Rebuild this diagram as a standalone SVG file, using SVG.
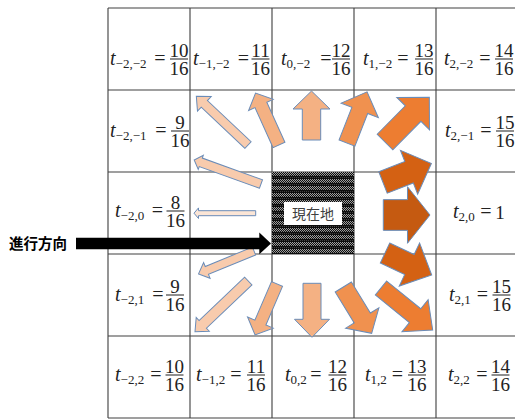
<svg xmlns="http://www.w3.org/2000/svg" width="515" height="419" viewBox="0 0 515 419">
<style>
.vl{stroke:#7a7a7a;stroke-width:1.6}
.hl{stroke:#404040;stroke-width:1.2}
.m{font-family:"Liberation Serif","DejaVu Serif",serif;font-size:19px;fill:#222}
.it{font-style:italic;font-size:20px}
.sb{font-size:13px}
.eq{font-size:20px}
.c{text-anchor:middle}
.fb{stroke:#333;stroke-width:1.1}
.ar{stroke:#6a8cb8;stroke-width:1;stroke-linejoin:miter}
</style>
<defs>
<pattern id="hatch" patternUnits="userSpaceOnUse" x="272" y="172" width="2" height="7">
<rect width="2" height="7" fill="#0d0d0d"/>
<rect x="0" y="0" width="1" height="1" fill="#a0a0a0"/>
<rect x="1" y="1" width="1" height="1" fill="#a0a0a0"/>
<rect x="0" y="2" width="1" height="1" fill="#a0a0a0"/>
<rect x="1" y="3" width="1" height="1" fill="#8c8c8c"/>
<rect x="0" y="5" width="1" height="1" fill="#404040"/>
</pattern>
</defs>

<g id="grid">
<line class="vl" x1="108" y1="8" x2="108" y2="418"/>
<line class="vl" x1="190" y1="8" x2="190" y2="418"/>
<line class="vl" x1="272" y1="8" x2="272" y2="418"/>
<line class="vl" x1="354" y1="8" x2="354" y2="418"/>
<line class="vl" x1="436" y1="8" x2="436" y2="418"/>
<line class="hl" x1="108" y1="8" x2="515" y2="8"/>
<line class="hl" x1="108" y1="90" x2="515" y2="90"/>
<line class="hl" x1="108" y1="172" x2="515" y2="172"/>
<line class="hl" x1="108" y1="254" x2="515" y2="254"/>
<line class="hl" x1="108" y1="336" x2="515" y2="336"/>
<line class="hl" x1="108" y1="418" x2="515" y2="418"/>
</g>

<g id="labels">
<!-- row 1, bar 59 -->
<g id="c-2-2"><text class="m" x="110" y="65"><tspan class="it">t</tspan><tspan class="sb" dy="3">−2,−2</tspan></text><text class="m c eq" x="160" y="65">=</text><text class="m c" x="179" y="56.5">10</text><line class="fb" x1="170" y1="59" x2="188" y2="59"/><text class="m c" x="179" y="75">16</text></g>
<g id="c-1-2"><text class="m" x="193" y="65"><tspan class="it">t</tspan><tspan class="sb" dy="3">−1,−2</tspan></text><text class="m c eq" x="243.5" y="65">=</text><text class="m c" x="260.5" y="56.5">11</text><line class="fb" x1="251.5" y1="59" x2="269.5" y2="59"/><text class="m c" x="260.5" y="75">16</text></g>
<g id="c0-2"><text class="m" x="281" y="65"><tspan class="it">t</tspan><tspan class="sb" dy="3">0,−2</tspan></text><text class="m c eq" x="326" y="65">=</text><text class="m c" x="341" y="56.5">12</text><line class="fb" x1="332" y1="59" x2="350" y2="59"/><text class="m c" x="341" y="75">16</text></g>
<g id="c1-2"><text class="m" x="363" y="65"><tspan class="it">t</tspan><tspan class="sb" dy="3">1,−2</tspan></text><text class="m c eq" x="403" y="65">=</text><text class="m c" x="424" y="56.5">13</text><line class="fb" x1="415" y1="59" x2="433" y2="59"/><text class="m c" x="424" y="75">16</text></g>
<g id="c2-2"><text class="m" x="444" y="65"><tspan class="it">t</tspan><tspan class="sb" dy="3">2,−2</tspan></text><text class="m c eq" x="485" y="65">=</text><text class="m c" x="504" y="56.5">14</text><line class="fb" x1="495" y1="59" x2="513" y2="59"/><text class="m c" x="504" y="75">16</text></g>
<!-- row 2, bar 131 -->
<g id="c-2-1"><text class="m" x="110" y="137"><tspan class="it">t</tspan><tspan class="sb" dy="3">−2,−1</tspan></text><text class="m c eq" x="161" y="137">=</text><text class="m c" x="180" y="128.5">9</text><line class="fb" x1="171" y1="131" x2="189" y2="131"/><text class="m c" x="180" y="147">16</text></g>
<g id="c2-1"><text class="m" x="445" y="137"><tspan class="it">t</tspan><tspan class="sb" dy="3">2,−1</tspan></text><text class="m c eq" x="486" y="137">=</text><text class="m c" x="505" y="128.5">15</text><line class="fb" x1="496" y1="131" x2="514" y2="131"/><text class="m c" x="505" y="147">16</text></g>
<!-- row 3, bar 211 -->
<g id="c-20"><text class="m" x="115" y="217"><tspan class="it">t</tspan><tspan class="sb" dy="3">−2,0</tspan></text><text class="m c eq" x="157.5" y="217">=</text><text class="m c" x="175.5" y="208.5">8</text><line class="fb" x1="166.5" y1="211" x2="184.5" y2="211"/><text class="m c" x="175.5" y="227">16</text></g>
<g id="c20"><text class="m" x="453" y="218"><tspan class="it">t</tspan><tspan class="sb" dy="3">2,0</tspan></text><text class="m c eq" x="486" y="218">=</text><text class="m c" x="500" y="219">1</text></g>
<!-- row 4, bar 295 -->
<g id="c-21"><text class="m" x="115" y="301"><tspan class="it">t</tspan><tspan class="sb" dy="3">−2,1</tspan></text><text class="m c eq" x="158" y="301">=</text><text class="m c" x="175" y="292.5">9</text><line class="fb" x1="166" y1="295" x2="184" y2="295"/><text class="m c" x="175" y="311">16</text></g>
<g id="c21"><text class="m" x="449" y="301"><tspan class="it">t</tspan><tspan class="sb" dy="3">2,1</tspan></text><text class="m c eq" x="482.5" y="301">=</text><text class="m c" x="501.5" y="292.5">15</text><line class="fb" x1="492.5" y1="295" x2="510.5" y2="295"/><text class="m c" x="501.5" y="311">16</text></g>
<!-- row 5, bar 375 -->
<g id="c-22"><text class="m" x="115" y="381"><tspan class="it">t</tspan><tspan class="sb" dy="3">−2,2</tspan></text><text class="m c eq" x="156" y="381">=</text><text class="m c" x="174.5" y="372.5">10</text><line class="fb" x1="165.5" y1="375" x2="183.5" y2="375"/><text class="m c" x="174.5" y="391">16</text></g>
<g id="c-12"><text class="m" x="196" y="381"><tspan class="it">t</tspan><tspan class="sb" dy="3">−1,2</tspan></text><text class="m c eq" x="236" y="381">=</text><text class="m c" x="256" y="372.5">11</text><line class="fb" x1="247" y1="375" x2="265" y2="375"/><text class="m c" x="256" y="391">16</text></g>
<g id="c02"><text class="m" x="285" y="381"><tspan class="it">t</tspan><tspan class="sb" dy="3">0,2</tspan></text><text class="m c eq" x="316" y="381">=</text><text class="m c" x="337.5" y="372.5">12</text><line class="fb" x1="328.5" y1="375" x2="346.5" y2="375"/><text class="m c" x="337.5" y="391">16</text></g>
<g id="c12"><text class="m" x="365" y="381"><tspan class="it">t</tspan><tspan class="sb" dy="3">1,2</tspan></text><text class="m c eq" x="397.5" y="381">=</text><text class="m c" x="417" y="372.5">13</text><line class="fb" x1="408" y1="375" x2="426" y2="375"/><text class="m c" x="417" y="391">16</text></g>
<g id="c22"><text class="m" x="448" y="381"><tspan class="it">t</tspan><tspan class="sb" dy="3">2,2</tspan></text><text class="m c eq" x="482" y="381">=</text><text class="m c" x="500.5" y="372.5">14</text><line class="fb" x1="491.5" y1="375" x2="509.5" y2="375"/><text class="m c" x="500.5" y="391">16</text></g>
</g>

<g id="current">
<rect x="272" y="172" width="82" height="82" fill="url(#hatch)"/>
<rect x="284" y="202" width="58" height="23" fill="#fff"/>
<text x="313" y="219" text-anchor="middle" font-family="'Noto Sans CJK JP','Noto Sans CJK SC',sans-serif" font-size="14" fill="#404040">現在地</text>
</g>

<g id="connectors">
<polygon class="ar" fill="#F8CBAD" transform="translate(248,145) rotate(-136.7)" points="0,-4.5 60,-4.5 60,-10 71,0 60,10 60,4.5 0,4.5"/>
<polygon class="ar" fill="#F4B183" transform="translate(279,145) rotate(-114.3)" points="0,-6.5 44,-6.5 44,-13.5 57,0 44,13.5 44,6.5 0,6.5"/>
<polygon class="ar" fill="#F4B183" transform="translate(311.5,140) rotate(-90)" points="0,-9.2 31,-9.2 31,-18.5 49,0 31,18.5 31,9.2 0,9.2"/>
<polygon class="ar" fill="#F0914F" transform="translate(347,143) rotate(-68.6)" points="0,-8.5 35,-8.5 35,-20 55,0 35,20 35,8.5 0,8.5"/>
<polygon class="ar" fill="#ED7D31" transform="translate(385,142) rotate(-45.3)" points="0,-11 40,-11 40,-23 63,0 40,23 40,11 0,11"/>
<polygon class="ar" fill="#D46113" transform="translate(383,182.5) rotate(-21.5)" points="0,-11.5 28,-11.5 28,-23.5 52,0 28,23.5 28,11.5 0,11.5"/>
<polygon class="ar" fill="#C55A11" transform="translate(383.3,215)" points="0,-15.35 24.2,-15.35 24.2,-28.3 46.7,0 24.2,28.3 24.2,15.35 0,15.35"/>
<polygon class="ar" fill="#D46113" transform="translate(385,253) rotate(25.2)" points="0,-11 27,-11 27,-23.85 51.6,0 27,23.85 27,11 0,11"/>
<polygon class="ar" fill="#ED7D31" transform="translate(381,288) rotate(39.1)" points="0,-9 43.9,-9 43.9,-20.7 66.6,0 43.9,20.7 43.9,9 0,9"/>
<polygon class="ar" fill="#F0914F" transform="translate(343.3,287) rotate(58.5)" points="0,-9.5 36.3,-9.5 36.3,-19.5 54.3,0 36.3,19.5 36.3,9.5 0,9.5"/>
<polygon class="ar" fill="#F4B183" transform="translate(312,283.3) rotate(90)" points="0,-9 36,-9 36,-17.5 54,0 36,17.5 36,9 0,9"/>
<polygon class="ar" fill="#F4B183" transform="translate(277,284) rotate(113.3)" points="0,-6 42,-6 42,-14 55.5,0 42,14 42,6 0,6"/>
<polygon class="ar" fill="#F8CBAD" transform="translate(248.3,281) rotate(136.4)" points="0,-5.35 62.9,-5.35 62.9,-9.5 73.6,0 62.9,9.5 62.9,5.35 0,5.35"/>
<polygon class="ar" fill="#F8CBAD" transform="translate(254,251) rotate(157.6)" points="0,-4.25 51,-4.25 51,-8.5 60,0 51,8.5 51,4.25 0,4.25"/>
<polygon class="ar" fill="#FBE5D6" transform="translate(255.7,213.2) rotate(180)" points="0,-2.5 57.2,-2.5 57.2,-5.3 61.7,0 57.2,5.3 57.2,2.5 0,2.5"/>
<polygon class="ar" fill="#F8CBAD" transform="translate(261,184) rotate(-160.2)" points="0,-4.5 64,-4.5 64,-7.5 71,0 64,7.5 64,4.5 0,4.5"/>
<polygon fill="#000" points="76,237.7 259.3,237.7 259.3,232.5 271,243.5 259.3,254.3 259.3,249.3 76,249.3"/>
</g>

<g id="direction-label">
<text x="9" y="249" font-family="'Noto Sans CJK JP','Noto Sans CJK SC',sans-serif" font-size="14.5" font-weight="bold" fill="#000">進行方向</text>
</g>
</svg>
